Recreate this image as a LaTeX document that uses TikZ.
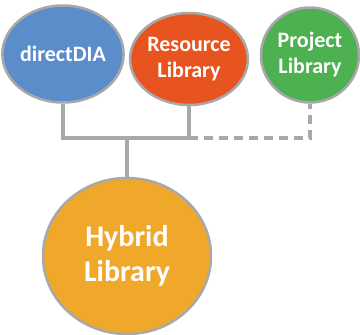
\documentclass[tikz,border=0pt]{standalone}
\usepackage{fontspec}
\setmainfont{Carlito}
\usetikzlibrary{shapes.geometric,positioning}

\definecolor{ddablue}{HTML}{5B8DCB}
\definecolor{resorange}{HTML}{E8541F}
\definecolor{prjgreen}{HTML}{4DB151}
\definecolor{hybgold}{HTML}{F0A82A}
\definecolor{rimgray}{HTML}{A8A8A8}

\begin{document}
\begin{tikzpicture}[x=1pt,y=1pt,
    lib/.style={ellipse,draw=rimgray,line width=2.5pt,text=white,font=\bfseries\fontsize{22}{26}\selectfont,align=center,inner sep=0pt},
    link/.style={draw=rimgray,line width=4pt},
    dashlink/.style={link,dash pattern=on 9pt off 6pt}]

        \useasboundingbox (0,0) rectangle (360,-335);

        \node [lib, fill=ddablue, minimum width=100, minimum height=97] (dda) at (63,-54) {directDIA};
        \node [lib, fill=resorange, minimum width=104, minimum height=92] (res) at (189,-59) {Resource\\Library};
        \node [lib, fill=prjgreen, minimum width=98, minimum height=95] (prj) at (310,-55) {Project\\Library};
        \node [lib, fill=hybgold, minimum width=168, minimum height=156, font=\bfseries\fontsize{30}{35}\selectfont] (hyb) at (127,-256) {Hybrid\\Library};

        \coordinate (j) at (127,-138);
        \coordinate (rj) at (res.south |- j);

          \draw [link] (dda.south) |- (rj) -- (res.south);
          \draw [link] (j) -- (hyb.north);
          \draw [dashlink] (rj) -| (prj.south);
        \end{tikzpicture}
\end{document}
